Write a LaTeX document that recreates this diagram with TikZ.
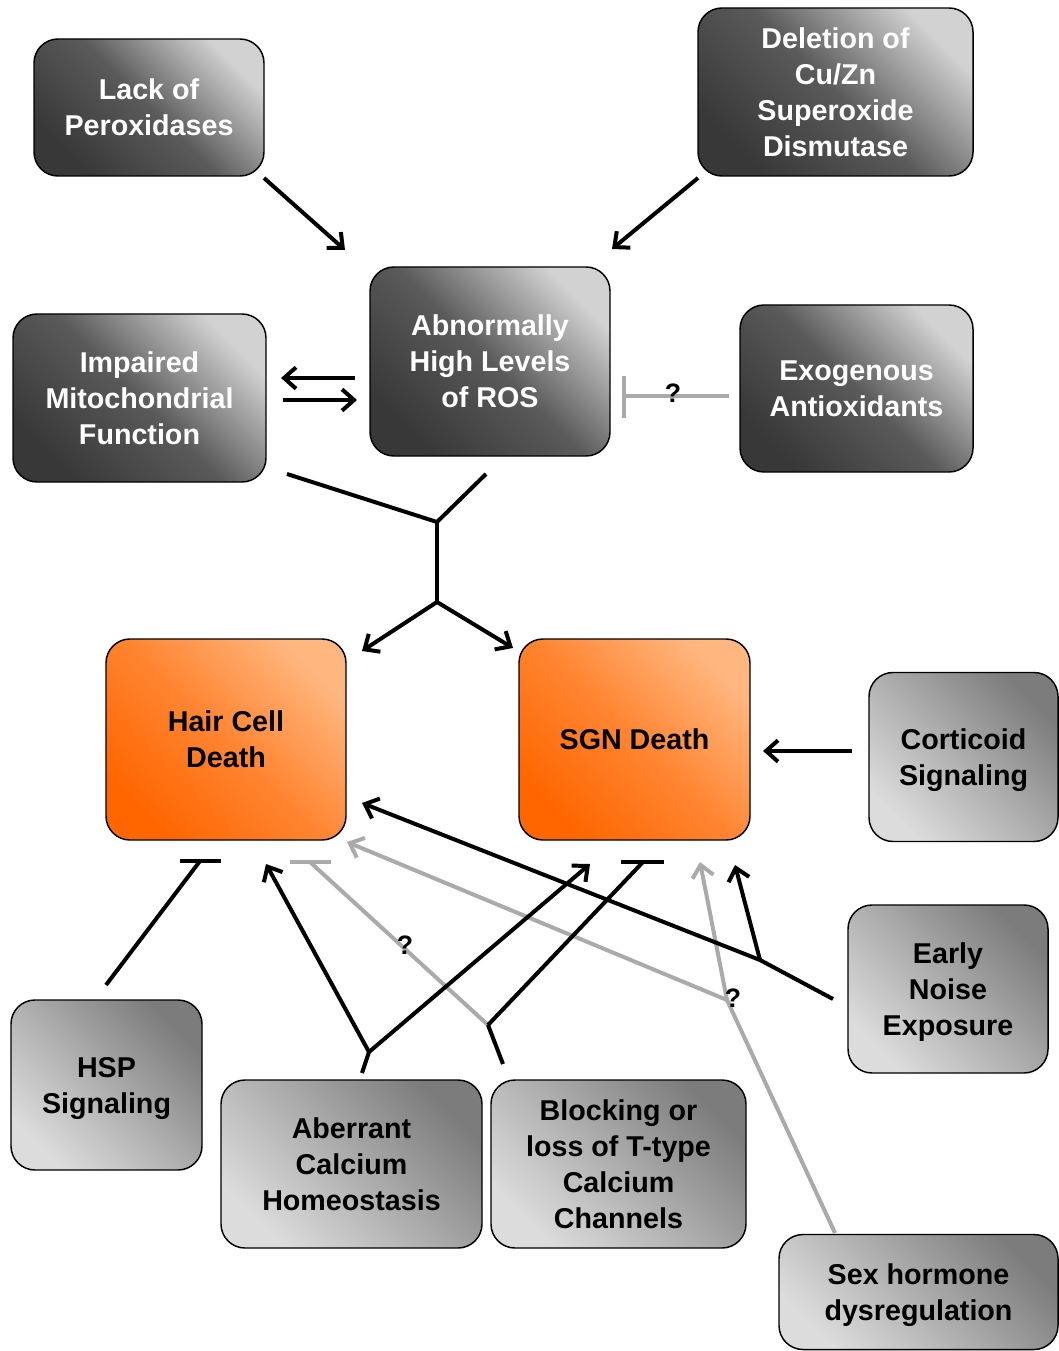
\documentclass[tikz,border=0pt]{standalone}
\usepackage{fontspec}
\setmainfont{Liberation Sans}
\usetikzlibrary{arrows.meta}
\definecolor{dkA}{HTML}{383838}
\definecolor{dkM}{HTML}{5A5A5A}
\definecolor{dkB}{HTML}{D2D2D2}
\definecolor{ltA}{HTML}{DCDCDC}
\definecolor{ltM}{HTML}{ADADAD}
\definecolor{ltB}{HTML}{7C7C7C}
\definecolor{orA}{HTML}{FF6600}
\definecolor{orM}{HTML}{FF8532}
\definecolor{orB}{HTML}{FFB67F}
\definecolor{lnGray}{HTML}{AAAAAA}
\begin{document}
\begin{tikzpicture}[x=0.75pt,y=-0.75pt,
  box/.style={draw=black, line width=1.1pt, rounded corners=18pt, align=center, inner sep=0pt,
    text depth=0pt, font=\bfseries\fontsize{21.5}{27}\selectfont},
  darkbox/.style={box, text=white, bottom color=dkA, top color=dkB, middle color=dkM, shading angle=-45},
  lightbox/.style={box, text=black, bottom color=ltA, top color=ltB, middle color=ltM, shading angle=-45},
  orangebox/.style={box, text=black, bottom color=orA, top color=orB, middle color=orM, shading angle=-45},
  conn/.style={line width=3pt, black},
  gconn/.style={line width=3pt, lnGray},
  arr/.style={conn, -{Straight Barb[length=9pt,width=16pt,line width=3pt]}},
  garr/.style={gconn, -{Straight Barb[length=9pt,width=16pt,line width=3pt]}},
  qmark/.style={font=\bfseries\fontsize{20}{24}\selectfont, inner sep=0pt}
]
\useasboundingbox (0,0) rectangle (1058,1351);

% boxes
\node[darkbox, minimum width=172.5pt, minimum height=102.75pt] (lack) at (149,107.5) {Lack of\\Peroxidases};
\node[darkbox, minimum width=206.25pt, minimum height=126pt] (del) at (835.5,92) {Deletion of\\Cu/Zn\\Superoxide\\Dismutase};
\node[darkbox, minimum width=180pt, minimum height=141.75pt] (ros) at (490,361.5) {Abnormally\\High Levels\\of ROS};
\node[darkbox, minimum width=189.75pt, minimum height=126pt] (imp) at (139.5,398) {Impaired\\Mitochondrial\\Function};
\node[darkbox, minimum width=174.75pt, minimum height=125.25pt] (exo) at (856.5,388.5) {Exogenous\\Antioxidants};
\node[orangebox, minimum width=180pt, minimum height=150.75pt] (hair) at (226,739.5) {Hair Cell\\Death};
\node[orangebox, minimum width=173.25pt, minimum height=150.75pt] (sgn) at (634.5,739.5) {SGN Death};
\node[lightbox, minimum width=141.75pt, minimum height=126.75pt] (cort) at (963.5,757) {Corticoid\\Signaling};
\node[lightbox, minimum width=143.25pt, minimum height=127.5pt] (hsp) at (106.5,1085) {HSP\\Signaling};
\node[lightbox, minimum width=195.75pt, minimum height=126pt] (abc) at (351.5,1164) {Aberrant\\Calcium\\Homeostasis};
\node[lightbox, minimum width=191.25pt, minimum height=126pt] (blk) at (618.5,1164) {Blocking or\\loss of T-type\\Calcium\\Channels};
\node[lightbox, minimum width=150pt, minimum height=126pt] (noise) at (948,989) {Early\\Noise\\Exposure};
\node[lightbox, minimum width=209.25pt, minimum height=86.25pt] (sex) at (918.5,1292) {Sex hormone\\dysregulation};

% coordinates
\coordinate (lackS) at (264,178);  \coordinate (rosA) at (345,250);
\coordinate (delS) at (698,178);   \coordinate (rosB) at (612,249);
\coordinate (rosL) at (355,378);   \coordinate (impR) at (281,378);
\coordinate (impS) at (283,400);   \coordinate (rosI) at (357,400);
\coordinate (exoS) at (729,396);   \coordinate (rosX) at (624,396);
\coordinate (barXa) at (624,376);  \coordinate (barXb) at (624,418);
\coordinate (impD) at (287,474);   \coordinate (rosD) at (486,474);
\coordinate (j1) at (437,522);     \coordinate (j2) at (437,602);
\coordinate (hairT) at (362,651);  \coordinate (sgnT) at (513,648);
\coordinate (cortS) at (852,751);  \coordinate (sgnR) at (763,751);
\coordinate (hspS) at (106,985);   \coordinate (hairH) at (200,861);
\coordinate (barHa) at (180,861);  \coordinate (barHb) at (221,861);
\coordinate (abcS) at (362,1073);  \coordinate (j3) at (369,1052);
\coordinate (hairA) at (266,864);  \coordinate (sgnA) at (590,864);
\coordinate (blkS) at (503,1064);  \coordinate (j4) at (488,1025);
\coordinate (hairB) at (310,862);  \coordinate (barGa) at (290,862); \coordinate (barGb) at (331,862);
\coordinate (sgnB) at (643,862);   \coordinate (barBa) at (621,862); \coordinate (barBb) at (664,862);
\coordinate (noiseS) at (833,999); \coordinate (j5) at (760,960);
\coordinate (hairN) at (362,803);  \coordinate (sgnN) at (735,865);
\coordinate (sexS) at (835,1233);  \coordinate (j6) at (727,1000);
\coordinate (hairS) at (347,842);  \coordinate (sgnS) at (700,862);

% connectors
\draw[arr] (lackS) -- (rosA);
\draw[arr] (delS) -- (rosB);
\draw[arr] (rosL) -- (impR);
\draw[arr] (impS) -- (rosI);
\draw[gconn] (exoS) -- (rosX);
\draw[gconn] (barXa) -- (barXb);
\node[qmark] (q1) at (673,393) {?};

\draw[conn] (impD) -- (j1) -- (rosD);
\draw[conn] (j1) -- (j2);
\draw[arr] (j2) -- (hairT);
\draw[arr] (j2) -- (sgnT);

\draw[arr] (cortS) -- (sgnR);

\draw[conn] (hspS) -- (hairH);
\draw[conn] (barHa) -- (barHb);

\draw[gconn] (sexS) -- (j6);
\draw[garr] (j6) -- (hairS);
\draw[garr] (j6) -- (sgnS);
\node[qmark] (q3) at (733,998) {?};

\draw[gconn] (j4) -- (hairB);
\draw[gconn] (barGa) -- (barGb);
\node[qmark] (q2) at (405,945) {?};

\draw[conn] (abcS) -- (j3);
\draw[arr] (j3) -- (hairA);
\draw[arr] (j3) -- (sgnA);

\draw[conn] (blkS) -- (j4);
\draw[conn] (j4) -- (sgnB);
\draw[conn] (barBa) -- (barBb);

\draw[conn] (noiseS) -- (j5);
\draw[arr] (j5) -- (hairN);
\draw[arr] (j5) -- (sgnN);
\end{tikzpicture}
\end{document}
